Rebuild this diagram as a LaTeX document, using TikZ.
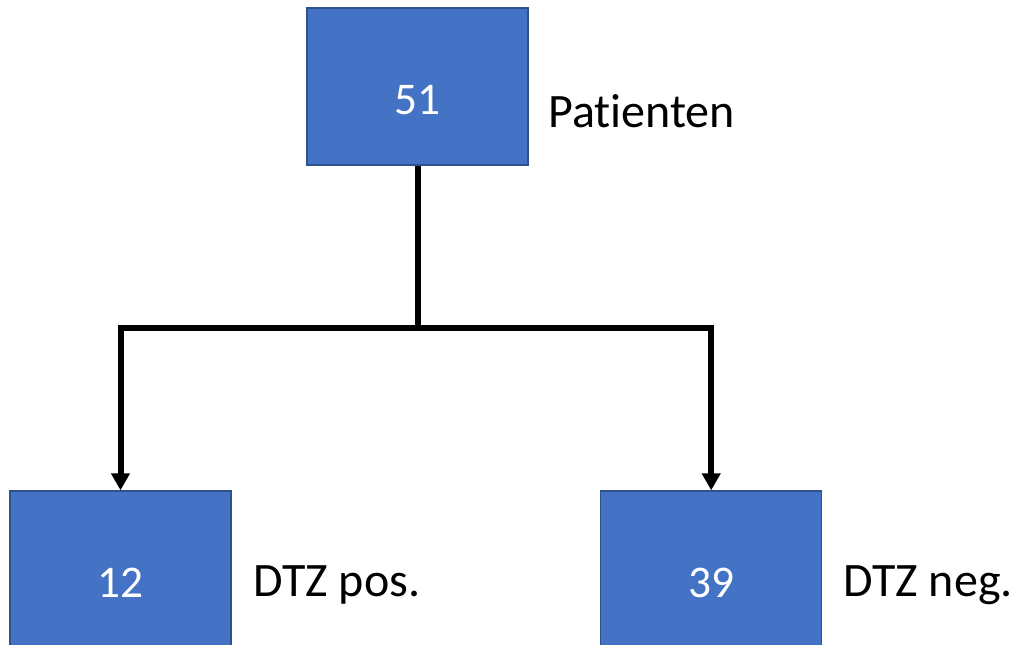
\documentclass[tikz,border=0pt]{standalone}
\usepackage{fontspec}
\setmainfont{Carlito}[RawFeature=-liga]
\usepackage{tikz}
\usetikzlibrary{arrows.meta, positioning}

\definecolor{boxblue}{HTML}{4472C4}
\definecolor{boxedge}{HTML}{2F528F}

\begin{document}
\begin{tikzpicture}[x=0.75pt, y=-0.75pt,
        countbox/.style={rectangle, fill=boxblue, draw=boxedge, line width=1pt,
            minimum width=165.75pt, minimum height=117.75pt, inner sep=0pt,
            text=white, font=\fontsize{34}{40}\selectfont,
            text height=42pt, text depth=0pt},
        grouplabel/.style={anchor=base west, inner sep=0pt, font=\fontsize{36}{42}\selectfont},
        conn/.style={line width=4.5pt},
        arr/.style={conn, -{Triangle[length=12.75pt, width=13.5pt]}}]
            \useasboundingbox (0,0) rectangle (1013,645);

            \node[countbox] (all) at (417.5,86.5) {51};
            \node[countbox] (pos) at (120.5,569.5) {12};
            \node[countbox] (neg) at (711.2,569.5) {39};

            \node[grouplabel] (allname) at (548,128) {Patienten};
            \node[grouplabel] (posname) at (253,596) {DTZ pos.};
            \node[grouplabel] (negname) at (843,596) {DTZ neg.};

            \coordinate (split) at (417.5,327.5);
            \draw[conn] (all.south) -- (split);
            \draw[arr] (split) -| (pos.north);
            \draw[arr] (split) -| (neg.north);
        \end{tikzpicture}
\end{document}
